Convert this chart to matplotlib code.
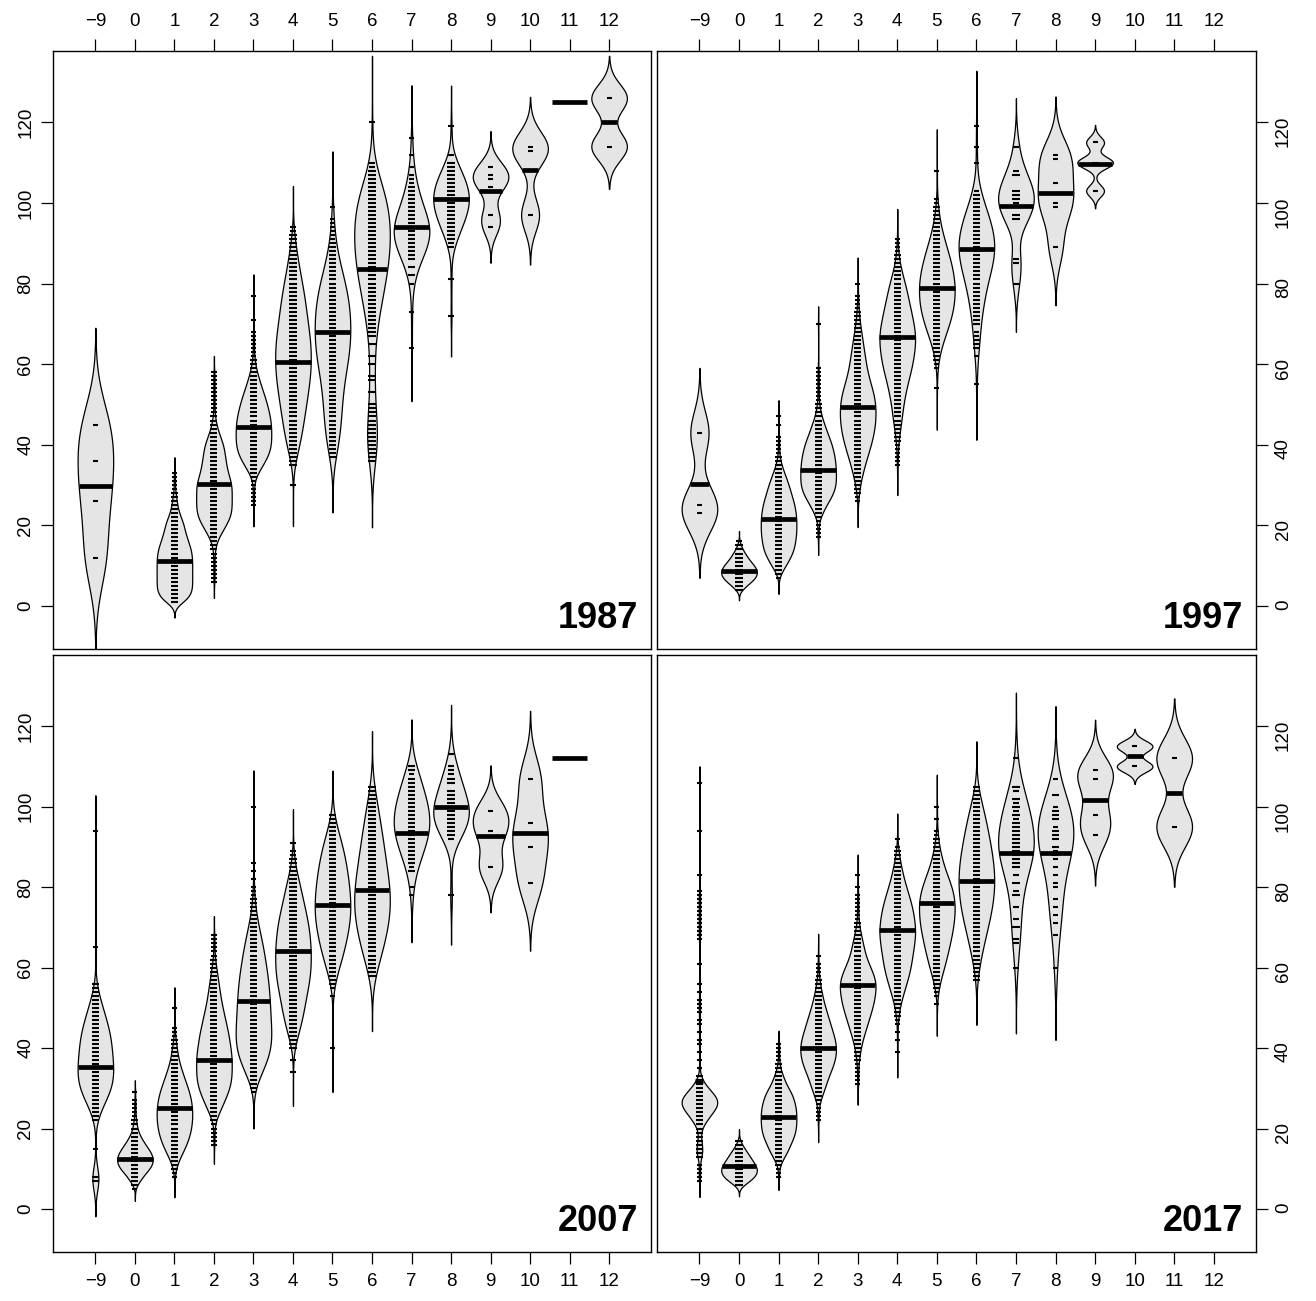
import numpy as np
import matplotlib.pyplot as plt

plt.rcParams['font.family'] = ['Liberation Sans', 'DejaVu Sans']

ages = [-9, 0, 1, 2, 3, 4, 5, 6, 7, 8, 9, 10, 11, 12]
age_labels = ['\u22129' if a < 0 else str(a) for a in ages]

# length-frequency per age class: counts at lo, lo+1, lo+2, ...
lo_1987 = [12, None, 1, 6, 25, 30, 37, 36, 64, 72, 94, 97, 125, 114]
cnt_1987 = [
    [1, 0, 0, 0, 0, 0, 0, 0, 0, 0, 0, 0, 0, 0, 1, 0, 0, 0, 0, 0, 0, 0, 0, 0, 1, 0, 0, 0, 0, 0, 0, 0, 0, 1],
    [],
    [18, 24, 28, 30, 30, 30, 30, 30, 30, 30, 30, 30, 29, 28, 26, 23, 21, 19, 17, 16,
     14, 11, 8, 6, 5, 4, 3, 2, 1, 1, 1, 1, 1],
    [1, 1, 1, 1, 1, 1, 1, 1, 2, 3, 5, 8, 12, 16, 20, 24, 27, 29, 30, 30,
     30, 30, 30, 30, 30, 28, 26, 24, 22, 21, 20, 19, 18, 17, 16, 13, 11, 8, 6, 4,
     3, 2, 1, 1, 1, 1, 1, 1, 1, 1, 1, 1, 1],
    [1, 1, 1, 1, 1, 1, 1, 3, 7, 12, 16, 20, 24, 27, 29, 30, 30, 30, 30, 30,
     30, 29, 28, 26, 25, 23, 21, 19, 17, 14, 12, 10, 8, 6, 4, 3, 2, 1, 1, 1,
     1, 1, 1, 1, 0, 0, 1, 0, 0, 0, 0, 0, 1],
    [1, 0, 0, 0, 0, 2, 4, 6, 8, 10, 11, 12, 14, 15, 16, 17, 18, 19, 20, 21,
     22, 23, 24, 25, 26, 27, 28, 29, 30, 30, 30, 30, 30, 30, 30, 30, 29, 28, 27, 26,
     25, 24, 23, 22, 22, 21, 20, 19, 18, 17, 15, 14, 13, 12, 10, 9, 8, 7, 6, 5,
     4, 3, 2, 1, 1],
    [2, 3, 3, 4, 4, 4, 4, 4, 5, 5, 5, 5, 5, 5, 5, 5, 6, 6, 6, 6,
     7, 7, 8, 8, 9, 9, 10, 10, 10, 10, 10, 10, 10, 10, 10, 10, 10, 10, 9, 9,
     9, 8, 8, 7, 7, 6, 5, 5, 4, 3, 3, 2, 2, 2, 1, 1, 1, 1, 1, 1, 0, 0, 1],
    [2, 2, 3, 3, 3, 3, 3, 3, 2, 2, 2, 2, 2, 2, 2, 0, 0, 2, 0, 0,
     3, 3, 0, 0, 2, 0, 3, 0, 0, 3, 0, 2, 2, 2, 2, 3, 3, 3, 4, 4,
     4, 5, 5, 5, 6, 6, 6, 7, 7, 7, 8, 8, 8, 8, 8, 8, 8, 8, 8, 8,
     8, 8, 8, 8, 7, 7, 6, 6, 5, 4, 3, 2, 2, 1, 1, 0, 0, 0, 0, 0,
     0, 0, 0, 0, 1],
    [1, 0, 0, 0, 0, 0, 0, 0, 0, 1, 0, 0, 0, 0, 0, 0, 1, 0, 2, 0,
     2, 0, 3, 3, 4, 5, 5, 6, 6, 6, 6, 6, 5, 4, 3, 3, 2, 2, 2, 2,
     2, 1, 1, 1, 0, 1, 0, 0, 1, 0, 0, 0, 1],
    [1, 0, 0, 0, 0, 0, 0, 0, 0, 1, 0, 0, 0, 0, 0, 0, 0, 1, 1, 2,
     2, 3, 3, 4, 4, 5, 5, 6, 6, 6, 6, 6, 5, 5, 4, 4, 3, 3, 2, 0,
     1, 0, 0, 0, 0, 0, 0, 1],
    [1, 0, 0, 1, 0, 0, 0, 0, 0, 0, 1, 0, 1, 1, 0, 1],
    [1, 0, 0, 0, 0, 0, 0, 0, 0, 0, 0, 0, 0, 0, 0, 0, 1, 1],
    [1],
    [1, 0, 0, 0, 0, 0, 0, 0, 0, 0, 0, 0, 1],
]
bw_1987 = [8.0, None, 1.3, 1.35, 1.75, 3.4, 4.6, 5.5, 4.4, 3.37, 2.95, 4.1, None, 3.5]
mean_1987 = [29.8, None, 11.2, 30.2, 44.4, 60.5, 67.9, 83.5, 94.0, 100.9, 102.9, 108.2, 125.0, 120.0]

lo_1997 = [23, 4, 7, 17, 26, 35, 54, 55, 80, 89, 103, None, None, None]
cnt_1997 = [
    [1, 0, 1, 0, 0, 0, 0, 0, 0, 0, 0, 0, 0, 0, 0, 0, 0, 0, 0, 0, 1],
    [5, 12, 20, 27, 30, 29, 25, 19, 14, 10, 6, 3, 1],
    [1, 3, 8, 12, 16, 20, 23, 26, 27, 28, 29, 30, 30, 30, 30, 30, 29, 28, 27, 25,
     23, 21, 19, 17, 15, 12, 10, 7, 5, 3, 2, 1, 1, 1, 1, 1, 0, 0, 1, 0, 1],
    [1, 1, 1, 1, 1, 4, 7, 10, 14, 18, 22, 26, 28, 30, 30, 30, 30, 30, 29, 29,
     28, 26, 25, 23, 21, 18, 15, 13, 11, 8, 6, 4, 3, 2, 1, 1, 1, 1, 1, 1,
     1, 1, 1, 0, 0, 0, 0, 0, 0, 0, 0, 0, 0, 1],
    [1, 1, 2, 3, 4, 5, 7, 8, 10, 12, 14, 16, 18, 20, 22, 24, 26, 27, 28, 29,
     30, 30, 30, 30, 30, 29, 28, 26, 24, 22, 20, 18, 16, 15, 14, 13, 12, 11, 10, 9,
     8, 7, 6, 5, 4, 3, 2, 2, 1, 1, 1, 1, 0, 0, 1],
    [1, 1, 1, 1, 1, 1, 2, 3, 4, 5, 6, 7, 8, 8, 9, 10, 11, 12, 14, 15,
     16, 18, 20, 22, 24, 25, 26, 27, 28, 29, 30, 30, 30, 30, 29, 27, 25, 24, 23, 22,
     20, 18, 17, 16, 15, 13, 11, 9, 7, 5, 4, 3, 2, 1, 1, 1, 1],
    [1, 0, 0, 0, 0, 1, 1, 2, 3, 4, 6, 8, 11, 13, 16, 19, 21, 23, 25, 27,
     28, 29, 29, 30, 30, 30, 30, 29, 28, 27, 26, 24, 22, 20, 18, 16, 14, 12, 10, 8,
     6, 5, 4, 3, 2, 2, 1, 1, 0, 0, 0, 0, 0, 0, 1],
    [1, 0, 0, 0, 0, 0, 0, 1, 0, 2, 2, 2, 1, 1, 0, 2, 2, 2, 3, 3,
     2, 3, 3, 4, 4, 4, 4, 5, 6, 6, 7, 8, 8, 8, 8, 8, 8, 8, 7, 7,
     6, 5, 5, 4, 4, 3, 3, 2, 1, 0, 0, 0, 0, 0, 0, 1, 0, 0, 0, 1,
     0, 0, 0, 0, 1],
    [1, 0, 0, 0, 0, 1, 1, 0, 0, 0, 0, 0, 0, 0, 0, 0, 2, 2, 0, 0,
     1, 2, 2, 2, 0, 0, 0, 2, 1, 0, 0, 0, 0, 0, 1],
    [1, 0, 0, 0, 0, 0, 0, 0, 0, 0, 1, 1, 0, 0, 0, 0, 1, 0, 0, 0, 0, 0, 1, 1],
    [1, 0, 0, 0, 0, 0, 0, 2, 0, 0, 0, 0, 1],
    [], [], [],
]
bw_1997 = [5.35, 0.87, 1.35, 1.45, 2.15, 2.5, 3.43, 4.6, 4.0, 4.8, 1.45, None, None, None]
mean_1997 = [30.3, 8.6, 21.6, 33.8, 49.3, 66.7, 78.9, 88.5, 99.3, 102.5, 109.7, None, None, None]

lo_2007 = [7, 5, 8, 16, 29, 34, 40, 58, 78, 78, 85, 81, 112, None]
cnt_2007 = [
    [18, 18, 0, 0, 0, 0, 0, 0, 1, 0, 0, 0, 0, 0, 0, 2, 4, 7, 10, 12,
     17, 21, 25, 27, 29, 29, 30, 30, 30, 29, 28, 27, 27, 27, 26, 26, 25, 23, 22, 20,
     18, 16, 14, 12, 10, 8, 6, 4, 3, 2, 0, 0, 0, 0, 0, 0, 0, 0, 1, 0,
     0, 0, 0, 0, 0, 0, 0, 0, 0, 0, 0, 0, 0, 0, 0, 0, 0, 0, 0, 0,
     0, 0, 0, 0, 0, 0, 0, 1],
    [1, 3, 9, 12, 18, 24, 28, 30, 29, 26, 22, 17, 13, 9, 6, 4, 3, 2, 1, 1, 1, 1, 1, 0, 1],
    [1, 1, 2, 4, 7, 10, 14, 17, 20, 23, 25, 27, 28, 29, 30, 30, 30, 30, 29, 28,
     27, 25, 23, 20, 18, 16, 13, 11, 9, 7, 6, 5, 4, 3, 2, 1, 1, 1, 0, 0,
     0, 0, 1],
    [1, 1, 1, 1, 1, 1, 3, 6, 9, 12, 15, 18, 21, 24, 26, 28, 29, 30, 30, 30,
     30, 30, 30, 29, 28, 27, 26, 25, 24, 22, 21, 19, 18, 16, 15, 13, 12, 11, 10, 9,
     8, 7, 6, 5, 4, 3, 2, 1, 1, 1, 1, 1, 1],
    [1, 2, 4, 7, 10, 14, 18, 21, 23, 25, 27, 29, 30, 30, 30, 29, 29, 28, 28, 28,
     27, 27, 27, 26, 26, 26, 25, 25, 24, 23, 22, 21, 20, 19, 18, 17, 16, 15, 13, 12,
     10, 9, 7, 6, 5, 4, 3, 2, 2, 1, 1, 1, 0, 1, 0, 1, 0, 1, 0, 0,
     0, 0, 0, 0, 0, 0, 0, 0, 0, 0, 0, 1],
    [1, 0, 0, 1, 0, 0, 2, 4, 6, 8, 10, 12, 13, 15, 17, 18, 19, 20, 21, 22,
     24, 25, 27, 28, 29, 29, 30, 30, 30, 30, 30, 30, 29, 29, 28, 27, 27, 26, 24, 23,
     21, 20, 18, 16, 15, 14, 13, 11, 9, 7, 6, 4, 3, 2, 1, 1, 0, 1],
    [1, 0, 0, 0, 0, 0, 0, 0, 0, 0, 0, 0, 0, 1, 0, 1, 2, 4, 6, 9,
     11, 13, 15, 17, 19, 20, 21, 23, 24, 26, 27, 28, 29, 30, 30, 30, 30, 29, 29, 28,
     27, 27, 26, 25, 24, 23, 22, 21, 20, 19, 17, 15, 13, 11, 9, 7, 5, 3, 2],
    [5, 7, 9, 11, 12, 14, 16, 18, 19, 21, 23, 24, 25, 26, 27, 28, 29, 30, 30, 30,
     29, 29, 28, 27, 26, 25, 24, 23, 22, 21, 20, 19, 19, 18, 17, 16, 15, 14, 13, 12,
     11, 10, 9, 8, 7, 6, 5, 4],
    [1, 0, 1, 0, 0, 0, 2, 1, 2, 2, 2, 2, 3, 3, 4, 4, 4, 4, 4, 4,
     4, 4, 4, 3, 3, 3, 3, 2, 2, 2, 1, 2, 2],
    [1, 0, 0, 0, 0, 0, 0, 0, 0, 0, 0, 0, 0, 0, 1, 2, 2, 2, 3, 3,
     3, 3, 3, 2, 2, 2, 2, 0, 2, 2, 1, 1, 1, 0, 0, 1],
    [1, 0, 0, 0, 0, 0, 0, 0, 0, 1, 0, 0, 0, 0, 1],
    [1, 0, 0, 0, 0, 0, 0, 0, 0, 1, 0, 0, 0, 0, 0, 1, 0, 0, 0, 0, 0, 0, 0, 0, 0, 0, 1],
    [1],
    [],
]
bw_2007 = [2.95, 1.0, 1.7, 1.6, 3.0, 2.8, 3.65, 4.6, 3.9, 4.1, 3.75, 5.6, None, None]
mean_2007 = [35.4, 12.4, 25.0, 37.1, 51.6, 64.1, 75.5, 79.3, 93.4, 100.0, 92.7, 93.5, 112.0, None]

lo_2017 = [7, 6, 8, 22, 31, 39, 51, 57, 60, 60, 93, 110, 95, None]
cnt_2017 = [
    [1, 1, 1, 1, 1, 0, 4, 5, 5, 4, 3, 2, 2, 3, 7, 11, 16, 20, 26, 30,
     30, 26, 20, 14, 8, 5, 2, 0, 1, 0, 1, 0, 1, 0, 1, 1, 0, 1, 0, 1,
     1, 0, 1, 1, 1, 1, 0, 1, 0, 1, 0, 0, 0, 0, 1, 0, 0, 0, 0, 0,
     1, 1, 1, 1, 1, 1, 1, 1, 1, 1, 1, 1, 1, 0, 0, 0, 1, 0, 0, 0,
     0, 0, 0, 0, 0, 0, 0, 1, 0, 0, 0, 0, 0, 0, 0, 0, 0, 0, 0, 1],
    [8, 18, 26, 30, 30, 27, 22, 18, 14, 9, 5, 2],
    [1, 1, 1, 3, 6, 10, 14, 17, 20, 23, 26, 28, 29, 30, 30, 30, 30, 29, 28, 26,
     24, 21, 17, 13, 10, 8, 5, 3, 2, 1, 1, 1, 1, 1],
    [1, 1, 1, 1, 1, 3, 6, 9, 11, 13, 15, 17, 20, 23, 26, 28, 29, 30, 30, 30,
     28, 26, 24, 22, 20, 18, 16, 14, 12, 10, 8, 7, 6, 4, 3, 2, 1, 1, 1, 1,
     0, 1],
    [1, 1, 1, 1, 1, 1, 2, 3, 4, 5, 6, 8, 10, 12, 14, 16, 18, 20, 22, 24,
     26, 27, 28, 29, 30, 30, 29, 27, 24, 21, 18, 15, 13, 11, 10, 9, 7, 6, 4, 3,
     2, 1, 1, 1, 1, 1, 1, 1, 0, 1, 0, 0, 1],
    [1, 0, 0, 1, 0, 1, 0, 1, 1, 2, 3, 4, 5, 7, 9, 11, 13, 15, 17, 19,
     21, 22, 23, 24, 25, 26, 27, 28, 29, 30, 30, 30, 29, 28, 27, 26, 25, 23, 21, 19,
     17, 15, 13, 11, 9, 8, 7, 5, 4, 3, 2, 1, 0, 1],
    [1, 0, 1, 1, 3, 5, 6, 8, 10, 12, 14, 16, 17, 19, 20, 21, 23, 25, 26, 27,
     28, 29, 29, 30, 30, 30, 30, 29, 27, 25, 23, 20, 17, 14, 12, 10, 8, 7, 5, 4,
     3, 2, 1, 1, 0, 0, 1, 0, 0, 1],
    [2, 2, 3, 4, 5, 7, 8, 9, 11, 12, 14, 15, 17, 19, 20, 22, 23, 25, 26, 27,
     28, 29, 29, 30, 30, 30, 30, 29, 29, 28, 27, 26, 25, 24, 22, 21, 20, 19, 18, 17,
     15, 13, 12, 10, 9, 7, 5, 3, 2],
    [1, 0, 0, 0, 0, 0, 1, 1, 0, 0, 2, 0, 1, 0, 0, 1, 0, 0, 2, 1,
     0, 2, 0, 1, 0, 2, 2, 2, 3, 3, 2, 2, 2, 2, 2, 2, 2, 1, 2, 1,
     2, 1, 2, 0, 1, 2, 0, 0, 0, 0, 0, 0, 1],
    [1, 0, 0, 0, 0, 0, 0, 0, 1, 0, 0, 1, 0, 1, 0, 1, 0, 1, 0, 0,
     1, 1, 0, 1, 0, 1, 0, 1, 2, 1, 2, 0, 2, 2, 2, 1, 0, 2, 2, 2,
     1, 0, 0, 2, 0, 0, 0, 1],
    [1, 0, 0, 0, 0, 1, 0, 0, 0, 0, 0, 0, 0, 0, 1, 0, 1],
    [1, 0, 0, 0, 0, 1],
    [1, 0, 0, 0, 0, 0, 0, 0, 0, 0, 0, 0, 0, 0, 0, 0, 0, 1],
    [],
]
bw_2017 = [1.35, 0.95, 1.1, 1.8, 1.7, 2.1, 2.65, 3.75, 5.45, 6.0, 4.2, 1.45, 4.97, None]
mean_2017 = [31.9, 10.7, 22.8, 40.0, 55.7, 69.3, 76.0, 81.4, 88.6, 88.4, 101.75, 112.5, 103.5, None]

panels = [
    ('1987', lo_1987, cnt_1987, bw_1987, mean_1987),
    ('1997', lo_1997, cnt_1997, bw_1997, mean_1997),
    ('2007', lo_2007, cnt_2007, bw_2007, mean_2007),
    ('2017', lo_2017, cnt_2017, bw_2017, mean_2017),
]

MAXW = 0.9  # full width of the widest part of a bean


def draw_bean(ax, pos, lo, counts, bw, avg):
    if avg is None:
        return
    if bw is None:
        # a single fish: no density, just the average line
        ax.plot([pos - MAXW / 2, pos + MAXW / 2], [avg, avg], color='black',
                lw=3.4, solid_capstyle='butt', zorder=4)
        return
    vals = lo + np.arange(len(counts))
    w = np.array(counts, dtype=float)
    vals, w = vals[w > 0], w[w > 0]

    def kde(y):
        y = np.atleast_1d(y)
        return (w * np.exp(-0.5 * ((y[:, None] - vals[None, :]) / bw) ** 2)).sum(axis=1)

    grid = np.linspace(vals.min() - 3 * bw, vals.max() + 3 * bw, 800)
    dens = kde(grid)
    peak = dens.max()
    half = MAXW / 2 * dens / peak
    ax.fill_betweenx(grid, pos - half, pos + half, facecolor='#e5e5e5',
                     edgecolor='black', lw=0.9, zorder=2)

    # bean lines, a little longer where several fish share a length
    ll = np.where(w > 1, 0.09, 0.065)
    ax.hlines(vals, pos - ll, pos + ll, color='black', lw=1.5, zorder=3)

    hm = MAXW / 2 * kde(avg)[0] / peak
    ax.plot([pos - hm, pos + hm], [avg, avg], color='black', lw=3.4,
            solid_capstyle='butt', zorder=4)


fig = plt.figure(figsize=(13.16, 13.01), dpi=100)
rects = [
    [0.04065, 0.50115, 0.45403, 0.45965],
    [0.49962, 0.50115, 0.45456, 0.45965],
    [0.04065, 0.03766, 0.45403, 0.45888],
    [0.49962, 0.03766, 0.45456, 0.45888],
]

for k, (year, los, cnts, bws, means) in enumerate(panels):
    ax = fig.add_axes(rects[k])
    for j in range(len(ages)):
        draw_bean(ax, j + 1, los[j], cnts[j], bws[j], means[j])

    ax.set_xlim(-0.06, 15.06)
    ax.set_ylim(-10.7, 137.7)
    ax.set_xticks(range(1, len(ages) + 1))
    ax.set_xticklabels(age_labels)
    ax.set_yticks(range(0, 121, 20))
    ax.tick_params(direction='out', length=8.4, width=0.9, labelsize=13.5,
                   color='black', pad=6.5)
    ax.tick_params(axis='y', labelrotation=90, pad=5.5)
    for lab in ax.get_yticklabels():
        lab.set_va('center')
    if k < 2:
        ax.xaxis.tick_top()
    if k % 2 == 1:
        ax.yaxis.tick_right()
    for sp in ax.spines.values():
        sp.set_linewidth(1.0)
        sp.set_color('black')

    ax.text(0.979, 0.035, year, transform=ax.transAxes, ha='right', va='baseline',
            fontsize=26, fontweight='bold')

fig.savefig('out.png', dpi=100)
